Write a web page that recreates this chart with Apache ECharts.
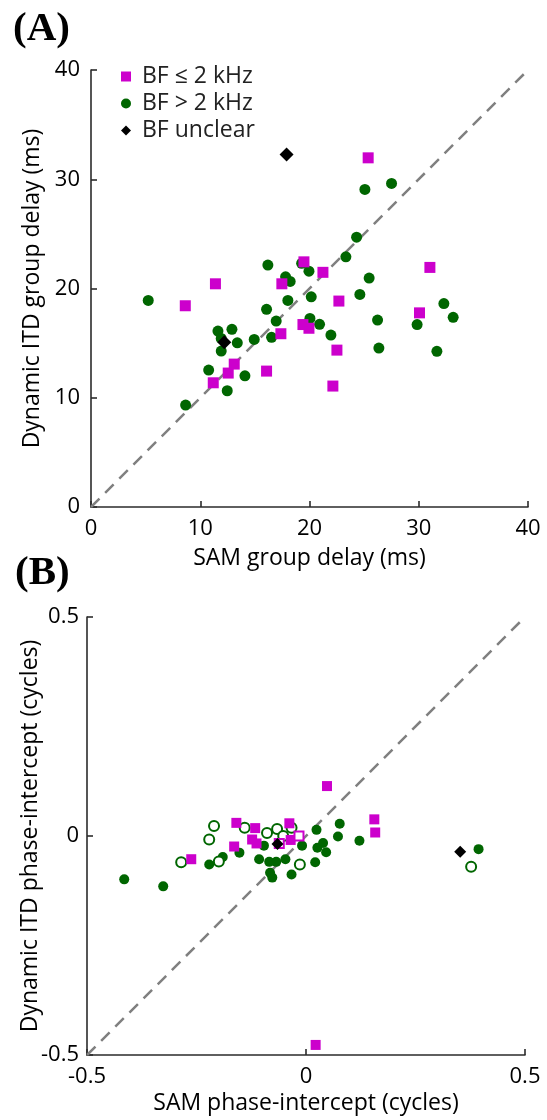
<!DOCTYPE html>
<html>
<head>
<meta charset="utf-8">
<script src="https://cdn.jsdelivr.net/npm/echarts@6/dist/echarts.min.js"></script>
<style>
html,body{margin:0;padding:0;background:#fff;}
#c{width:547px;height:1120px;}
</style>
</head>
<body>
<div id="c"></div>
<script>
// ---------- Panel A data: [SAM group delay (ms), Dynamic ITD group delay (ms)] ----------
const aLowBF = [
  [8.63,18.42],[11.19,11.37],[11.39,20.43],[12.56,12.26],[13.11,13.08],[16.07,12.44],
  [17.38,15.86],[17.47,20.43],[19.40,16.70],[19.49,22.44],[19.95,16.36],[21.23,21.48],
  [22.14,11.07],[22.51,14.36],[22.69,18.85],[25.37,31.96],[30.07,17.77],[31.02,21.93]
];
const aHighBF = [
  [5.24,18.91],[8.66,9.33],[10.77,12.53],[11.62,16.10],[11.92,15.43],[11.92,14.27],
  [12.47,10.64],[12.90,16.26],[13.39,15.03],[14.09,12.01],[14.94,15.34],[16.07,18.09],
  [16.19,22.14],[16.53,15.53],[16.95,17.02],[17.81,21.07],[18.23,20.65],[18.02,18.91],
  [19.28,22.30],[19.95,21.59],[20.16,19.24],[20.04,17.26],[20.92,16.72],[21.96,15.74],
  [23.33,22.90],[24.31,24.70],[24.61,19.46],[25.07,29.07],[25.46,20.95],[26.23,17.11],
  [26.35,14.55],[27.51,29.62],[29.85,16.70],[31.66,14.25],[32.30,18.62],[33.15,17.36]
];
const aUnclear = [[17.90,32.27],[12.20,15.07]];
const aUnity = [[0,0],[40,40]];

// ---------- Panel B data: [SAM phase-intercept, Dynamic ITD phase-intercept] (cycles) ----------
const bLowBF = [
  [-0.262,-0.053],[-0.164,-0.024],[-0.159,0.030],[-0.123,-0.008],[-0.116,0.018],[-0.113,-0.017],
  [-0.038,0.029],[-0.035,-0.009],[0.048,0.114],[0.156,0.038],[0.158,0.008],[0.022,-0.477]
];
const bLowBFOpen = [[-0.061,-0.017],[-0.016,0.000]];
const bHighBF = [
  [-0.415,-0.099],[-0.326,-0.115],[-0.221,-0.065],[-0.190,-0.048],[-0.152,-0.038],[-0.107,-0.053],
  [-0.096,-0.022],[-0.084,-0.059],[-0.082,-0.084],[-0.077,-0.095],[-0.068,-0.059],[-0.047,-0.053],
  [-0.033,-0.088],[-0.009,-0.022],[0.021,-0.060],[0.024,0.014],[0.026,-0.027],[0.039,-0.016],
  [0.046,-0.037],[0.073,-0.001],[0.077,0.028],[0.122,-0.011],[0.394,-0.030]
];
const bHighBFOpen = [
  [-0.285,-0.060],[-0.221,-0.008],[-0.210,0.023],[-0.199,-0.058],[-0.140,0.019],[-0.089,0.007],
  [-0.066,0.016],[-0.052,0.000],[-0.033,0.019],[-0.014,-0.065],[0.377,-0.070]
];
const bUnclear = [[-0.065,-0.018],[0.352,-0.036]];
const bUnity = [[-0.5,-0.5],[0.5,0.5]];

const aTicks = {min:0, max:40, interval:10};
const bTicks = {min:-0.5, max:0.5, interval:0.5};

const NAME_LOW = 'BF \u2264 2 kHz';
const NAME_HIGH = 'BF > 2 kHz';
const NAME_UNC = 'BF unclear';

const MAG = '#cc00cc', GRN = '#006600', BLK = '#000000';
const FONT = 'Open Sans';
const AX = '#2b2b2b';

function axisCommon(ticks, name, nameGap, labelMargin) {
  return {
    type:'value', min:ticks.min, max:ticks.max, interval:ticks.interval,
    name:name, nameLocation:'middle', nameGap:nameGap, nameMoveOverlap:false,
    nameTextStyle:{fontSize:23, color:'#000', fontFamily:FONT},
    axisLine:{show:true, onZero:false, lineStyle:{color:AX, width:1.6}},
    axisTick:{show:true, inside:true, length:6, lineStyle:{color:AX, width:1.6}},
    axisLabel:{fontSize:22, color:'#000', fontFamily:FONT, margin:labelMargin},
    splitLine:{show:false}
  };
}

function scatter(name, data, xi, symbol, size, color, hollow) {
  return {
    type:'scatter', name:name, xAxisIndex:xi, yAxisIndex:xi, data:data,
    symbol:symbol, symbolSize:size, z:3,
    itemStyle: hollow ? {color:'#fff', borderColor:color, borderWidth:2, opacity:1} : {color:color, opacity:1},
    emphasis:{disabled:true}, animation:false
  };
}

function unity(data, xi) {
  return {
    type:'line', data:data, xAxisIndex:xi, yAxisIndex:xi, symbol:'none', z:1,
    lineStyle:{color:'#808080', width:2.5, type:[12,8]}, animation:false, silent:true
  };
}

const chart = echarts.init(document.getElementById('c'), null, {renderer:'canvas'});
chart.setOption({
  animation:false,
  textStyle:{fontFamily:FONT},
  grid:[
    {left:91, top:70, width:437, height:437},
    {left:87, top:617, width:438, height:438}
  ],
  xAxis:[
    Object.assign(axisCommon(aTicks,'SAM group delay (ms)',40,11),{gridIndex:0}),
    Object.assign(axisCommon(bTicks,'SAM phase-intercept (cycles)',37,11),{gridIndex:1})
  ],
  yAxis:[
    Object.assign(axisCommon(aTicks,'Dynamic ITD group delay (ms)',47,11),{gridIndex:0}),
    Object.assign(axisCommon(bTicks,'Dynamic ITD phase-intercept (cycles)',45,8),{gridIndex:1})
  ],
  legend:{
    data:[{name:NAME_LOW, icon:'rect'},{name:NAME_HIGH, icon:'circle'},{name:NAME_UNC, icon:'diamond'}],
    orient:'vertical', left:116, top:60, itemWidth:10, itemHeight:10, itemGap:4,
    selectedMode:false,
    textStyle:{fontSize:23, lineHeight:23, color:'#222', fontFamily:FONT, padding:[0,0,0,6]}
  },
  graphic:[
    {type:'text', left:13, top:9, style:{text:'(A)', font:'bold 41px "Liberation Serif"', fill:'#000'}},
    {type:'text', left:15, top:553, style:{text:'(B)', font:'bold 41px "Liberation Serif"', fill:'#000'}}
  ],
  series:[
    unity(aUnity,0),
    scatter(NAME_HIGH, aHighBF, 0, 'circle', 11, GRN, false),
    scatter(NAME_LOW, aLowBF, 0, 'rect', 11, MAG, false),
    scatter(NAME_UNC, aUnclear, 0, 'diamond', 14, BLK, false),
    unity(bUnity,1),
    scatter(NAME_HIGH, bHighBF, 1, 'circle', 10, GRN, false),
    scatter('open high', bHighBFOpen, 1, 'circle', 10, GRN, true),
    scatter(NAME_LOW, bLowBF, 1, 'rect', 10, MAG, false),
    scatter('open low', bLowBFOpen, 1, 'rect', 9, MAG, true),
    scatter(NAME_UNC, bUnclear, 1, 'diamond', 12, BLK, false)
  ]
});
</script>
</body>
</html>
